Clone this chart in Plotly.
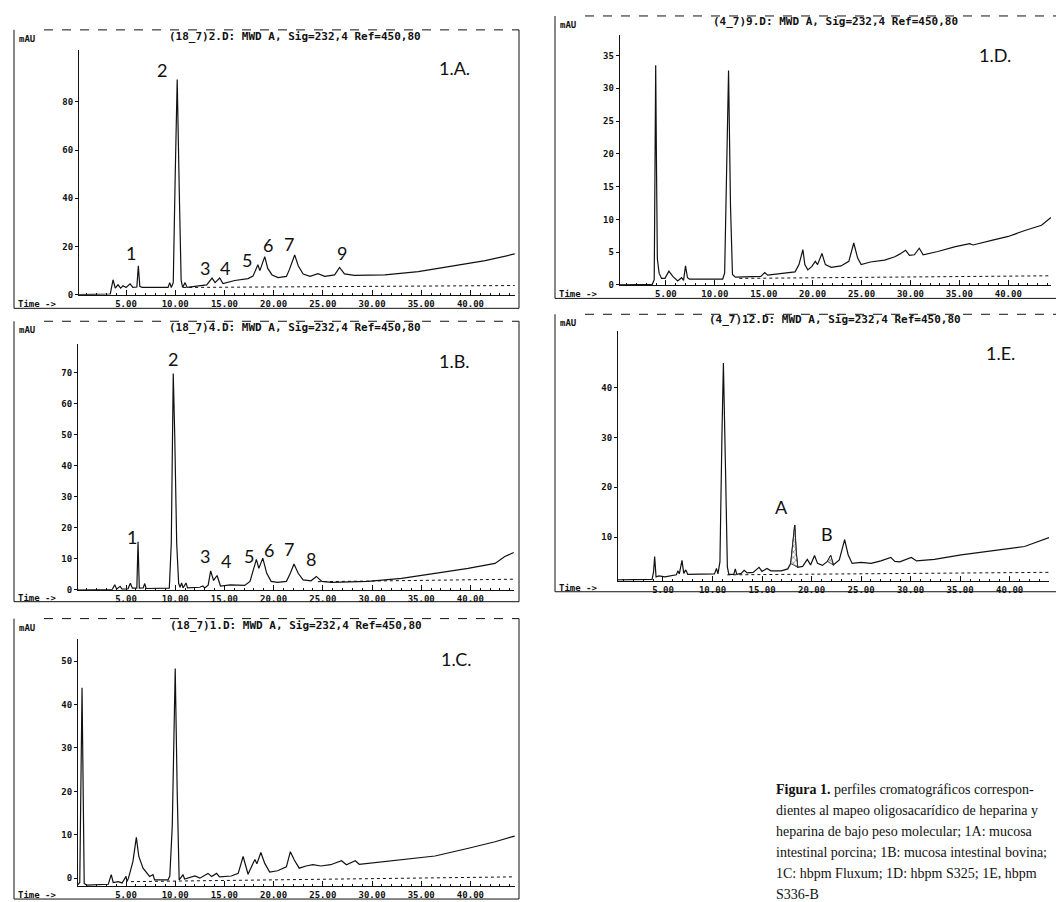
import plotly.graph_objects as go

W, H = 1064, 902

# ---------------- data (time in min, signal in mAU) ----------------
trace_A = [(0.22, 0.0), (3.4, 0.3), (3.68, 6.2), (3.9, 2.7), (4.19, 4.1), (4.45, 2.7), (4.7, 3.7),
           (5.0, 3.0), (5.41, 4.5), (5.7, 3.0), (6.1, 3.2), (6.25, 12.0), (6.4, 3.5), (6.63, 3.0),
           (9.27, 3.0), (9.44, 5.0), (9.6, 3.0), (9.8, 5.0), (10.0, 50.0), (10.2, 89.3), (10.4, 45.0),
           (10.6, 6.0), (10.75, 3.0), (11.0, 5.0), (11.2, 3.0), (13.2, 4.1), (13.74, 6.9), (14.05, 5.0),
           (14.52, 6.9), (14.85, 4.6), (16.05, 5.9), (17.4, 6.7), (17.9, 7.7), (18.4, 12.4), (18.6, 10.0),
           (19.1, 15.8), (19.4, 10.9), (19.84, 8.2), (20.45, 7.1), (21.3, 7.6), (21.6, 10.4), (22.14, 16.5),
           (22.5, 12.0), (23.0, 8.6), (23.7, 7.6), (24.5, 8.7), (25.2, 7.6), (26.2, 8.2), (26.7, 11.3),
           (27.2, 8.6), (28.2, 8.0), (31.3, 8.2), (34.7, 9.6), (38.1, 11.7), (41.5, 14.1), (44.5, 16.9)]
blank_A = [(10.8, 3.0), (44.5, 3.8)]

trace_B = [(0.12, 0.0), (3.6, 0.1), (3.85, 1.6), (4.05, 0.2), (4.4, 1.1), (4.6, 0.2), (5.2, 0.3),
           (5.44, 2.1), (5.65, 0.5), (6.1, 0.5), (6.22, 15.5), (6.35, 0.5), (6.75, 0.6), (6.9, 2.0),
           (7.05, 0.4), (9.4, 0.5), (9.6, 15.0), (9.8, 69.7), (9.95, 50.0), (10.15, 15.0), (10.35, 2.0),
           (10.5, 0.8), (10.65, 2.2), (10.8, 0.6), (11.1, 2.2), (11.25, 0.6), (12.5, 0.8), (12.8, 1.2),
           (13.0, 0.6), (13.35, 1.5), (13.6, 6.1), (13.9, 3.0), (14.25, 4.6), (14.6, 1.2), (15.6, 1.6),
           (17.06, 1.4), (17.6, 2.7), (18.25, 9.8), (18.5, 6.9), (18.9, 10.2), (19.3, 5.3), (19.75, 2.7),
           (20.4, 2.4), (21.3, 2.7), (21.7, 5.3), (22.07, 8.3), (22.5, 5.3), (23.0, 3.2), (23.8, 2.9),
           (24.34, 4.3), (24.9, 2.7), (25.9, 2.4), (29.6, 2.7), (33.0, 3.7), (36.4, 5.3), (39.76, 6.9),
           (42.5, 8.5), (43.5, 10.7), (44.4, 12.0)]
blank_B = [(24.5, 2.6), (44.4, 3.4)]

trace_C = [(0.12, -1.5), (0.3, -1.0), (0.53, 43.9), (0.75, -1.2), (1.0, -1.6), (3.2, -1.4), (3.5, 0.8),
           (3.7, -1.0), (4.2, -0.8), (4.6, -1.1), (5.0, 0.4), (5.1, -0.8), (5.25, 0.0), (5.7, 3.8),
           (6.05, 9.4), (6.3, 5.0), (6.73, 2.3), (7.4, 0.4), (7.74, 0.8), (7.9, -0.4), (9.27, -0.4),
           (9.45, 0.5), (9.7, 12.0), (10.0, 48.3), (10.2, 20.0), (10.4, -0.4), (10.8, 0.8), (10.95, -0.2),
           (12.0, 0.5), (12.5, 0.0), (13.33, 1.1), (13.7, 0.4), (14.2, 1.1), (14.5, 0.3), (15.7, 0.5),
           (16.4, 1.1), (16.9, 5.0), (17.4, 0.9), (17.9, 3.4), (18.1, 4.3), (18.3, 3.3), (18.7, 5.9),
           (19.1, 3.4), (19.6, 1.4), (20.4, 1.7), (21.3, 2.6), (21.7, 6.1), (22.1, 4.2), (22.6, 2.3),
           (23.3, 2.8), (24.0, 3.1), (24.8, 2.8), (25.8, 3.1), (26.9, 4.0), (27.4, 3.1), (28.3, 4.0),
           (28.7, 3.2), (31.3, 3.8), (33.0, 4.3), (36.4, 5.1), (39.8, 6.9), (42.5, 8.4), (44.5, 9.7)]
blank_C = [(5.5, -0.8), (44.5, 0.3)]

trace_D = [(0.27, 0.0), (3.6, 0.1), (3.8, 0.8), (3.9, 20.0), (3.95, 33.5), (4.02, 20.0), (4.12, 4.0),
           (4.3, 1.8), (4.55, 1.0), (4.9, 1.0), (5.3, 2.1), (5.7, 1.3), (6.2, 0.6), (6.6, 1.1), (6.8, 0.7),
           (7.0, 2.9), (7.2, 1.1), (7.4, 0.9), (10.8, 0.9), (11.0, 1.8), (11.2, 15.0), (11.4, 32.7),
           (11.6, 12.0), (11.8, 1.6), (12.1, 1.2), (14.7, 1.3), (15.1, 1.9), (15.4, 1.5), (17.1, 1.8),
           (18.2, 2.0), (18.6, 3.1), (19.0, 5.4), (19.2, 3.1), (19.5, 2.3), (19.9, 2.8), (20.27, 3.6),
           (20.5, 3.1), (20.95, 4.8), (21.3, 3.1), (21.9, 2.7), (22.9, 2.9), (23.7, 3.6), (24.2, 6.4),
           (24.6, 4.1), (24.96, 3.1), (25.9, 3.5), (27.36, 3.8), (28.4, 4.3), (28.9, 4.7), (29.5, 5.3),
           (29.9, 4.5), (30.4, 4.6), (30.9, 5.6), (31.3, 4.6), (32.8, 5.1), (34.5, 5.8), (36.05, 6.3),
           (36.4, 6.1), (38.3, 6.8), (40.0, 7.4), (41.7, 8.3), (43.4, 9.1), (44.37, 10.3)]
blank_D = [(12.5, 1.0), (44.37, 1.4)]

trace_E = [(0.46, 1.4), (3.9, 1.5), (4.05, 3.0), (4.16, 6.1), (4.3, 2.0), (4.6, 2.2), (5.2, 2.0),
           (6.35, 2.4), (6.5, 3.2), (6.65, 2.6), (6.92, 5.3), (7.1, 2.7), (7.3, 3.4), (7.5, 2.5),
           (10.2, 2.6), (10.4, 3.7), (10.55, 2.6), (10.75, 5.0), (10.95, 30.0), (11.1, 45.0), (11.3, 25.0),
           (11.5, 4.0), (11.65, 2.5), (12.15, 2.5), (12.3, 3.6), (12.45, 2.5), (12.9, 2.7), (13.2, 3.3),
           (13.5, 2.8), (14.1, 2.9), (14.7, 3.9), (15.0, 3.1), (15.5, 3.7), (15.9, 3.2), (16.94, 3.2),
           (17.6, 3.6), (17.9, 4.7), (18.1, 9.0), (18.3, 12.4), (18.45, 7.0), (18.6, 3.9), (19.1, 4.1),
           (19.57, 5.5), (19.9, 4.4), (20.3, 6.3), (20.6, 4.7), (21.1, 4.3), (21.6, 5.1), (21.93, 6.3),
           (22.2, 4.4), (22.8, 5.4), (23.34, 9.5), (23.7, 6.4), (24.1, 4.7), (25.0, 4.9), (26.0, 4.7),
           (27.0, 5.2), (28.0, 5.9), (28.4, 5.1), (28.9, 5.0), (30.07, 5.9), (30.6, 5.2), (32.4, 5.5),
           (35.1, 6.4), (38.1, 7.2), (41.5, 8.1), (43.97, 9.9)]
blank_E = [(11.5, 2.4), (43.97, 2.9)]
hatched_E = [(17.9, 18.6), (21.6, 22.2)]

x_tick_vals = [5, 10, 15, 20, 25, 30, 35, 40]
x_tick_text = ["5.00", "10.00", "15.00", "20.00", "25.00", "30.00", "35.00", "40.00"]
y_ticks_A = [0, 20, 40, 60, 80]
y_ticks_B = [0, 10, 20, 30, 40, 50, 60, 70]
y_ticks_C = [0, 10, 20, 30, 40, 50]
y_ticks_D = [0, 5, 10, 15, 20, 25, 30, 35]
y_ticks_E = [10, 20, 30, 40]

labels_A = [("2", 8.66, 93.3), ("1", 5.5, 17.2), ("3", 13.0, 11.0), ("4", 15.1, 11.0),
            ("5", 17.3, 14.4), ("6", 19.4, 20.6), ("7", 21.6, 21.0), ("9", 26.9, 17.2)]
labels_B = [("2", 9.78, 74.3), ("1", 5.6, 17.1), ("3", 13.06, 11.0), ("4", 15.2, 9.4),
            ("5", 17.5, 11.0), ("6", 19.5, 12.8), ("7", 21.6, 13.0), ("8", 23.8, 9.8)]
labels_C = []
labels_D = []
labels_E = [("A", 17.0, 16.1), ("B", 21.6, 10.7)]

headers = ["(18_7)2.D: MWD A, Sig=232,4 Ref=450,80",
           "(18_7)4.D: MWD A, Sig=232,4 Ref=450,80",
           "(18_7)1.D: MWD A, Sig=232,4 Ref=450,80",
           "(4_7)9.D: MWD A, Sig=232,4 Ref=450,80",
           "(4_7)12.D: MWD A, Sig=232,4 Ref=450,80"]
panel_names = ["1.A.", "1.B.", "1.C.", "1.D.", "1.E."]

caption_lines = ["<b>Figura 1.</b> perfiles cromatográficos correspon-",
                 "dientes al mapeo oligosacarídico de heparina y",
                 "heparina de bajo peso molecular; 1A: mucosa",
                 "intestinal porcina; 1B: mucosa intestinal bovina;",
                 "1C: hbpm Fluxum; 1D: hbpm S325; 1E, hbpm",
                 "S336-B"]

# ---------------- layout geometry (pixels) ----------------
panels = [
    dict(trace=trace_A, blank=blank_A, labels=labels_A, yt=y_ticks_A,
         xpx=(71, 507), xr=(0.22, 44.53), ypx=(288.3, 42), yr=(0, 101.6),
         frame=(6, 22, 511, 302), head=(287, 28.5), name=(446, 60)),
    dict(trace=trace_B, blank=blank_B, labels=labels_B, yt=y_ticks_B,
         xpx=(70, 506), xr=(0.12, 44.43), ypx=(585, 338.3), yr=(0, 79.1),
         frame=(6, 315, 511, 597), head=(287, 321.5), name=(446, 355)),
    dict(trace=trace_C, blank=blank_C, labels=labels_C, yt=y_ticks_C,
         xpx=(70, 507), xr=(0.12, 44.53), ypx=(883, 635), yr=(-1.83, 55.0),
         frame=(6, 614, 511, 896), head=(288, 620.5), name=(448, 655)),
    dict(trace=trace_D, blank=blank_D, labels=labels_D, yt=y_ticks_D,
         xpx=(611.7, 1043), xr=(0.27, 44.37), ypx=(278.5, 26.7), yr=(0, 38.2),
         frame=(547, 8, 1050, 292), head=(827, 13.5), name=(987, 47)),
    dict(trace=trace_E, blank=blank_E, labels=labels_E, yt=y_ticks_E,
         xpx=(610, 1041), xr=(0.46, 43.97), ypx=(576, 325), yr=(1.2, 51.4),
         frame=(547, 308, 1049, 587), head=(827, 313.7), name=(992, 347)),
]

def fx(px):
    return px / W

def fy(py):
    return 1 - py / H

MONO = "DejaVu Sans Mono"
INK = "#111111"

fig = go.Figure()
layout = dict(width=W, height=H, margin=dict(l=0, r=0, t=0, b=0),
              paper_bgcolor="white", plot_bgcolor="white", showlegend=False)
shapes, annotations = [], []

for i, p in enumerate(panels):
    n = "" if i == 0 else str(i + 1)
    xa, ya = "x" + n, "y" + n
    t = [a for a, b in p["trace"]]
    v = [b for a, b in p["trace"]]
    tb = [a for a, b in p["blank"]]
    vb = [b for a, b in p["blank"]]
    fig.add_trace(go.Scatter(x=tb, y=vb, mode="lines", xaxis=xa, yaxis=ya,
                             line=dict(color=INK, width=1, dash="dot"), hoverinfo="skip"))
    fig.add_trace(go.Scatter(x=t, y=v, mode="lines", xaxis=xa, yaxis=ya,
                             line=dict(color=INK, width=1.2), hoverinfo="skip"))
    if i == 4:
        for lo, hi in hatched_E:
            seg = [(a, b) for a, b in p["trace"] if lo <= a <= hi]
            hx = [a for a, b in seg] + [seg[0][0]]
            hy = [b for a, b in seg] + [seg[0][1]]
            fig.add_trace(go.Scatter(x=hx, y=hy, mode="lines", fill="toself", xaxis=xa, yaxis=ya,
                                     fillcolor="white",
                                     fillpattern=dict(shape="x", fgcolor=INK, bgcolor="white",
                                                      size=4, solidity=0.35),
                                     line=dict(color=INK, width=0.8), hoverinfo="skip"))

    layout["xaxis" + n] = dict(
        domain=[fx(p["xpx"][0]), fx(p["xpx"][1])], range=list(p["xr"]), anchor=ya,
        showgrid=False, zeroline=False, showline=True, linecolor=INK, linewidth=1,
        tickmode="array", tickvals=x_tick_vals, ticktext=x_tick_text,
        ticks="inside", ticklen=5, tickcolor=INK, tickwidth=1,
        tickfont=dict(family=MONO, size=9, color=INK, weight="bold"),
        minor=dict(dtick=1, tick0=0, ticks="inside", ticklen=2, tickcolor=INK, showgrid=False),
        fixedrange=True)
    layout["yaxis" + n] = dict(
        domain=[fy(p["ypx"][0]), fy(p["ypx"][1])], range=list(p["yr"]), anchor=xa,
        showgrid=False, zeroline=False, showline=True, linecolor=INK, linewidth=1,
        tickmode="array", tickvals=p["yt"], ticktext=[str(k) for k in p["yt"]],
        ticks="outside", ticklen=3, tickcolor=INK,
        tickfont=dict(family=MONO, size=9, color=INK, weight="bold"),
        fixedrange=True)

    L, T, R, B = p["frame"]
    line = dict(color=INK, width=1)
    shapes += [
        dict(type="line", xref="paper", yref="paper", x0=fx(L), x1=fx(L), y0=fy(T), y1=fy(B), line=line),
        dict(type="line", xref="paper", yref="paper", x0=fx(R), x1=fx(R), y0=fy(T), y1=fy(B), line=line),
        dict(type="line", xref="paper", yref="paper", x0=fx(L), x1=fx(R), y0=fy(B), y1=fy(B), line=line),
        dict(type="line", xref="paper", yref="paper", x0=fx(L + 30), x1=fx(R), y0=fy(T), y1=fy(T),
             line=dict(color=INK, width=1, dash="dash")),
    ]
    annotations += [
        dict(text=headers[i], xref="paper", yref="paper", x=fx(p["head"][0]), y=fy(p["head"][1]),
             showarrow=False, xanchor="center", yanchor="middle",
             font=dict(family=MONO, size=11, color=INK, weight="bold")),
        dict(text="mAU", xref="paper", yref="paper", x=fx(L + 3), y=fy(T + 9),
             showarrow=False, xanchor="left", yanchor="middle",
             font=dict(family=MONO, size=9, color=INK, weight="bold")),
        dict(text="Time ->", xref="paper", yref="paper", x=fx(L + 2), y=fy(B - 4),
             showarrow=False, xanchor="left", yanchor="middle",
             font=dict(family=MONO, size=9, color=INK, weight="bold")),
        dict(text=panel_names[i], xref="paper", yref="paper", x=fx(p["name"][0]), y=fy(p["name"][1]),
             showarrow=False, xanchor="center", yanchor="middle",
             font=dict(family="Lato", size=18, color=INK)),
    ]
    for txt, lx, ly in p["labels"]:
        annotations.append(dict(text=txt, xref=xa, yref=ya, x=lx, y=ly, showarrow=False,
                                xanchor="center", yanchor="middle",
                                font=dict(family="Lato", size=18, color=INK)))

for k, txt in enumerate(caption_lines):
    annotations.append(dict(text=txt, xref="paper", yref="paper", x=fx(766), y=fy(786 + 21 * k),
                            showarrow=False, xanchor="left", yanchor="middle",
                            font=dict(family="Liberation Serif", size=14, color=INK)))

layout["shapes"] = shapes
layout["annotations"] = annotations
fig.update_layout(**layout)
fig.write_html("out.html")
